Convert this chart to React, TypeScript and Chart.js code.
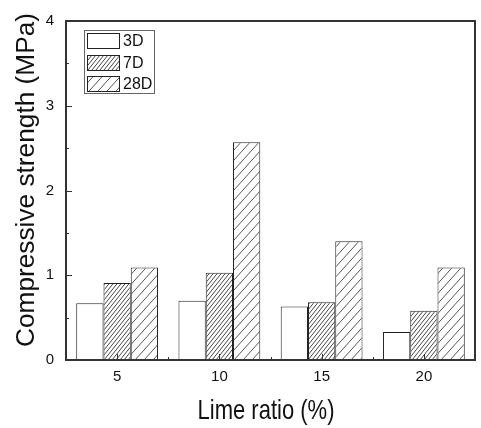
import React, { useEffect, useRef } from "react";
import { Chart, registerables } from "chart.js";

Chart.register(...registerables);

const categories = ["5", "10", "15", "20"];
const series3D = [0.67, 0.7, 0.63, 0.33];
const series7D = [0.91, 1.03, 0.68, 0.58];
const series28D = [1.09, 2.57, 1.4, 1.09];
const seriesLabels = ["3D", "7D", "28D"];
const yMin = 0;
const yMax = 4;
const yStep = 1;
const xTitle = "Lime ratio (%)";
const yTitle = "Compressive strength (MPa)";

const FONT = "'Liberation Sans', Arial, sans-serif";

function makeHatch(w: number, h: number, lw: number, color: string): CanvasPattern | string {
  const c = document.createElement("canvas");
  c.width = w;
  c.height = h;
  const g = c.getContext("2d");
  if (!g) return "#fff";
  g.fillStyle = "#ffffff";
  g.fillRect(0, 0, w, h);
  g.strokeStyle = color;
  g.lineWidth = lw;
  g.beginPath();
  for (let k = -1; k <= 1; k++) {
    g.moveTo(k * w, h);
    g.lineTo(k * w + w, 0);
  }
  g.stroke();
  const p = g.createPattern(c, "repeat");
  return p || "#fff";
}

export default function App() {
  const ref = useRef<HTMLCanvasElement | null>(null);

  useEffect(() => {
    if (!ref.current) return;
    const dense = makeHatch(4, 5, 0.9, "#333");
    const sparse = makeHatch(9, 10, 0.9, "#444");
    const fills = ["#ffffff", dense, sparse];

    const framePlugin = {
      id: "frameTicks",
      afterDatasetsDraw(chart: any) {
        const ctx = chart.ctx;
        const { left, right, top, bottom } = chart.chartArea;
        const xs = chart.scales.x;
        const ys = chart.scales.y;
        ctx.save();
        ctx.strokeStyle = "#333";
        ctx.lineWidth = 1;
        ctx.beginPath();
        for (let v = yMin; v <= yMax + 1e-9; v += yStep / 2) {
          const y = Math.round(ys.getPixelForValue(v)) + 0.5;
          const major = Math.abs(v - Math.round(v)) < 1e-9;
          ctx.moveTo(left, y);
          ctx.lineTo(left + (major ? 6 : 3), y);
        }
        for (let i = 0; i < categories.length; i++) {
          const x = Math.round(xs.getPixelForValue(i)) + 0.5;
          ctx.moveTo(x, bottom);
          ctx.lineTo(x, bottom - 6);
          if (i < categories.length - 1) {
            const xm = Math.round((xs.getPixelForValue(i) + xs.getPixelForValue(i + 1)) / 2) + 0.5;
            ctx.moveTo(xm, bottom);
            ctx.lineTo(xm, bottom - 3);
          }
        }
        ctx.stroke();
        ctx.lineWidth = 2;
        ctx.strokeStyle = "#333";
        ctx.strokeRect(left, top, right - left, bottom - top);

        // legend
        const lx = 84, ly = 30, lw = 70, lh = 63;
        ctx.lineWidth = 1;
        ctx.strokeStyle = "#666";
        ctx.fillStyle = "#fff";
        ctx.fillRect(lx + 0.5, ly + 0.5, lw, lh);
        ctx.strokeRect(lx + 0.5, ly + 0.5, lw, lh);
        const rowY = [33, 55, 76];
        chart.data.datasets.forEach((ds: any, i: number) => {
          const sx = 87, sy = rowY[i], sw = 32, sh = 15;
          ctx.fillStyle = ds.backgroundColor;
          ctx.fillRect(sx, sy, sw, sh);
          ctx.strokeStyle = "#222";
          ctx.strokeRect(sx + 0.5, sy + 0.5, sw, sh);
          ctx.fillStyle = "#111";
          ctx.font = `16px ${FONT}`;
          ctx.textBaseline = "middle";
          ctx.textAlign = "left";
          ctx.fillText(ds.label, 123, sy + sh / 2 + 1);
        });

        // axis titles
        ctx.fillStyle = "#111";
        ctx.textAlign = "center";
        ctx.textBaseline = "alphabetic";
        ctx.font = `28px ${FONT}`;
        let mw = ctx.measureText(xTitle).width;
        ctx.save();
        ctx.translate(266, 419);
        ctx.scale(137 / mw, 1);
        ctx.fillText(xTitle, 0, 0);
        ctx.restore();
        ctx.font = `25px ${FONT}`;
        mw = ctx.measureText(yTitle).width;
        ctx.save();
        ctx.translate(34, 180);
        ctx.rotate(-Math.PI / 2);
        ctx.scale(334 / mw, 1);
        ctx.fillText(yTitle, 0, 0);
        ctx.restore();
        ctx.restore();
      },
    };

    const datasetsValues = [series3D, series7D, series28D];
    const chart = new Chart(ref.current, {
      type: "bar",
      data: {
        labels: categories,
        datasets: datasetsValues.map((vals, i) => ({
          label: seriesLabels[i],
          data: vals,
          backgroundColor: fills[i] as any,
          borderColor: "#222",
          borderWidth: 1,
          borderSkipped: "start",
          categoryPercentage: 0.8,
          barPercentage: 1,
        })),
      },
      options: {
        responsive: false,
        animation: false,
        devicePixelRatio: 1,
        layout: { padding: { top: 14, right: 6, left: 0, bottom: 0 } },
        plugins: { legend: { display: false }, tooltip: { enabled: false } },
        scales: {
          x: {
            type: "category",
            offset: true,
            grid: { display: false, drawTicks: false },
            border: { display: false },
            ticks: { color: "#111", font: { family: FONT, size: 15 }, padding: 8, maxRotation: 0 },
            afterFit(scale: any) {
              scale.height = 68;
            },
          },
          y: {
            min: yMin,
            max: yMax,
            grid: { display: false, drawTicks: false },
            border: { display: false },
            ticks: { stepSize: yStep, color: "#111", font: { family: FONT, size: 15 }, padding: 12 },
            afterFit(scale: any) {
              scale.width = 66;
            },
          },
        },
      },
      plugins: [framePlugin],
    });
    return () => chart.destroy();
  }, []);

  return (
    <div style={{ position: "fixed", left: 0, top: 0, width: 481, height: 428, background: "#fff" }}>
      <canvas ref={ref} width={481} height={428} style={{ width: 481, height: 428, display: "block" }} />
    </div>
  );
}
